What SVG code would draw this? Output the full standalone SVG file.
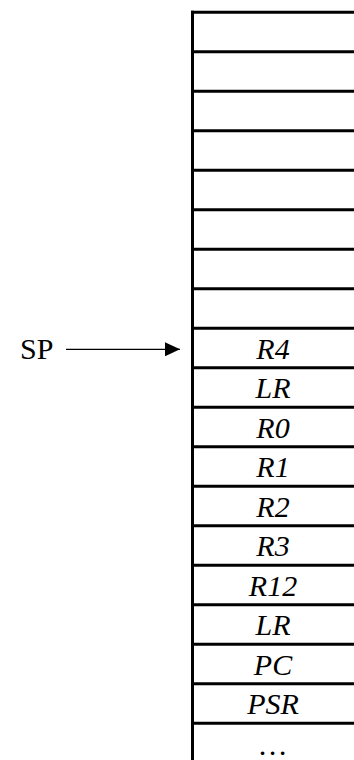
<svg xmlns="http://www.w3.org/2000/svg" width="354" height="760" viewBox="0 0 354 760">
  <defs>
    <style>
      .cell { stroke: #000; stroke-width: 3; fill: none; }
      .lbl { font-family: "Liberation Serif", "Times New Roman", serif; font-size: 30px; font-style: italic; fill: #000; text-anchor: middle; }
      .sp { font-family: "Liberation Serif", "Times New Roman", serif; font-size: 30px; fill: #000; }
      .arrow { stroke: #000; stroke-width: 1.3; fill: none; }
    </style>
    <marker id="ah" markerWidth="15" markerHeight="14" refX="15" refY="7" orient="auto" markerUnits="userSpaceOnUse">
      <path d="M0,0 L15,7 L0,14 Z" fill="#000"/>
    </marker>
  </defs>
  <rect width="354" height="760" fill="#fff"/>
  <g id="stack">
    <line class="cell" x1="192.5" y1="10.8" x2="192.5" y2="760"/>
    <line class="cell" x1="191" y1="12.3" x2="354" y2="12.3"/>
    <line class="cell" x1="192.5" y1="51.8" x2="354" y2="51.8"/>
    <line class="cell" x1="192.5" y1="91.3" x2="354" y2="91.3"/>
    <line class="cell" x1="192.5" y1="130.8" x2="354" y2="130.8"/>
    <line class="cell" x1="192.5" y1="170.3" x2="354" y2="170.3"/>
    <line class="cell" x1="192.5" y1="209.8" x2="354" y2="209.8"/>
    <line class="cell" x1="192.5" y1="249.3" x2="354" y2="249.3"/>
    <line class="cell" x1="192.5" y1="288.8" x2="354" y2="288.8"/>
    <line class="cell" x1="192.5" y1="328.3" x2="354" y2="328.3"/>
    <line class="cell" x1="192.5" y1="367.8" x2="354" y2="367.8"/>
    <line class="cell" x1="192.5" y1="407.3" x2="354" y2="407.3"/>
    <line class="cell" x1="192.5" y1="446.8" x2="354" y2="446.8"/>
    <line class="cell" x1="192.5" y1="486.3" x2="354" y2="486.3"/>
    <line class="cell" x1="192.5" y1="525.8" x2="354" y2="525.8"/>
    <line class="cell" x1="192.5" y1="565.3" x2="354" y2="565.3"/>
    <line class="cell" x1="192.5" y1="604.8" x2="354" y2="604.8"/>
    <line class="cell" x1="192.5" y1="644.3" x2="354" y2="644.3"/>
    <line class="cell" x1="192.5" y1="683.8" x2="354" y2="683.8"/>
    <line class="cell" x1="192.5" y1="723.3" x2="354" y2="723.3"/>
  </g>
  <g id="cell-r4"><text class="lbl" x="273" y="358.5">R4</text></g>
  <g id="cell-lr1"><text class="lbl" x="273" y="398">LR</text></g>
  <g id="cell-r0"><text class="lbl" x="273" y="437.5">R0</text></g>
  <g id="cell-r1"><text class="lbl" x="273" y="477">R1</text></g>
  <g id="cell-r2"><text class="lbl" x="273" y="516.5">R2</text></g>
  <g id="cell-r3"><text class="lbl" x="273" y="556">R3</text></g>
  <g id="cell-r12"><text class="lbl" x="273" y="595.5">R12</text></g>
  <g id="cell-lr2"><text class="lbl" x="273" y="635">LR</text></g>
  <g id="cell-pc"><text class="lbl" x="273" y="674.5">PC</text></g>
  <g id="cell-psr"><text class="lbl" x="273" y="714">PSR</text></g>
  <g id="cell-more"><text class="lbl" x="273" y="755">…</text></g>
  <g id="sp"><text class="sp" x="20" y="358.5">SP</text></g>
  <g id="connectors">
    <line class="arrow" x1="66" y1="349.3" x2="180" y2="349.3" marker-end="url(#ah)"/>
  </g>
</svg>
